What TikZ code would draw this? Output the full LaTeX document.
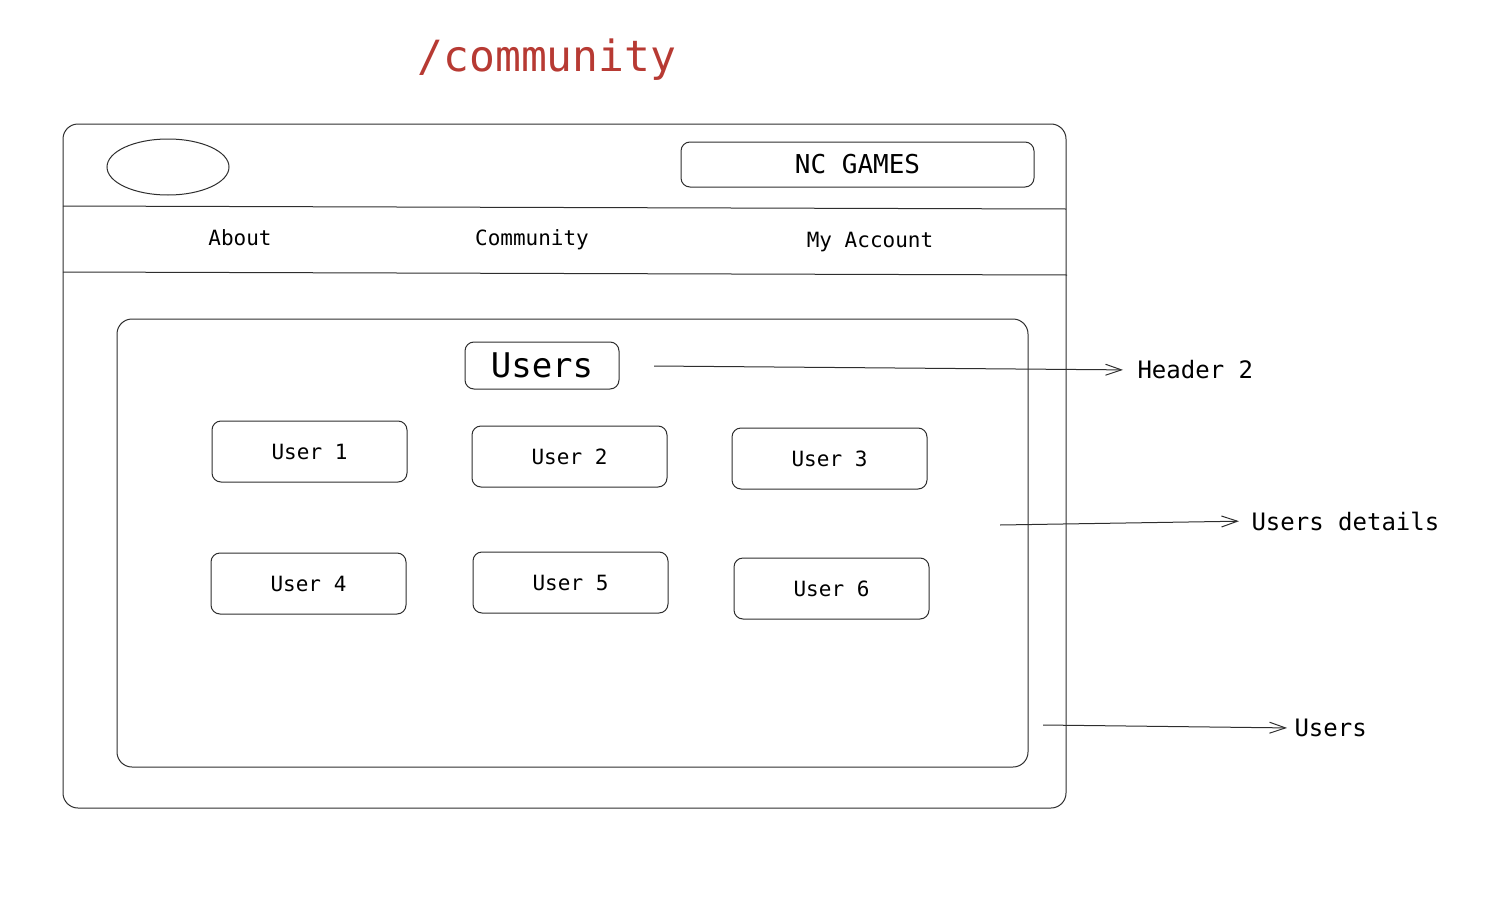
\documentclass[tikz,border=0pt]{standalone}
\usepackage{fontspec}
\setmonofont{DejaVu Sans Mono}
\usetikzlibrary{arrows.meta,shapes.geometric}
\definecolor{routered}{HTML}{B73A33}
\definecolor{sketch}{HTML}{2E2E2E}

\begin{document}
\begin{tikzpicture}[x=1pt, y=-1pt, line width=1pt,
    userbox/.style={draw=sketch, rounded corners=9pt, minimum width=195pt, minimum height=61pt, font=\ttfamily\fontsize{21}{25}\selectfont},
    navtext/.style={font=\ttfamily\fontsize{21}{25}\selectfont},
    note/.style={anchor=west, inner sep=0pt, font=\ttfamily\fontsize{24}{28}\selectfont},
    pointer/.style={draw=sketch, -{Straight Barb[length=16pt,width=11pt]}}]
    \useasboundingbox (0,0) rectangle (1494,902);

    \node[text=routered, font=\ttfamily\fontsize{43}{48}\selectfont] (route) at (547,60) {/community};

    \draw[sketch, rounded corners=15pt] (63,124) rectangle (1066,808);
    \draw[sketch] (63,206) -- (1066,209);
    \draw[sketch] (63,272) -- (1067,275);

    \node[draw=sketch, ellipse, minimum width=122pt, minimum height=56pt, inner sep=0pt] (logo) at (168,167) {};
    \node[draw=sketch, rounded corners=9pt, minimum width=353pt, minimum height=45pt, font=\ttfamily\fontsize{26}{30}\selectfont] (brand) at (857.5,164.5) {NC GAMES};

    \node[navtext] (about) at (240,238) {About};
    \node[navtext] (community) at (532,240) {Community};
    \node[navtext] (account) at (870,242) {My Account};

    \draw[sketch, rounded corners=15pt] (117,319) rectangle (1028,767);
    \node[draw=sketch, rounded corners=9pt, minimum width=154pt, minimum height=47pt, font=\ttfamily\fontsize{34}{38}\selectfont] (heading) at (542,365.5) {Users};

    \node[userbox] (user1) at (309.5,451.5) {User 1};
    \node[userbox] (user2) at (569.5,456.5) {User 2};
    \node[userbox] (user3) at (829.5,458.5) {User 3};
    \node[userbox] (user4) at (308.5,583.5) {User 4};
    \node[userbox] (user5) at (570.5,582.5) {User 5};
    \node[userbox] (user6) at (831.5,588.5) {User 6};

    \coordinate (headingtail) at (654,366);
    \coordinate (detailstail) at (1000,525);
    \coordinate (liststail) at (1043,725);
    \node[note] (headingnote) at (1137,370) {Header 2};
    \node[note] (detailsnote) at (1251,521) {Users details};
    \node[note] (listsnote) at (1294,728) {Users};
    \draw[pointer, shorten >=14pt] (headingtail) -- (headingnote.west);
    \draw[pointer, shorten >=12pt] (detailstail) -- (detailsnote.west);
    \draw[pointer, shorten >=7pt] (liststail) -- (listsnote.west);
\end{tikzpicture}
\end{document}
